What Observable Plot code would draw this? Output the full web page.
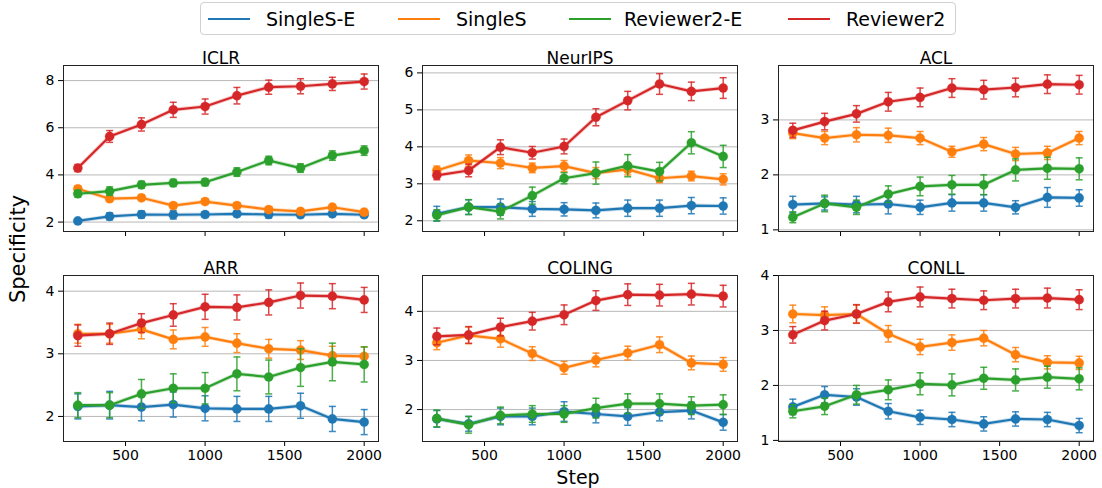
<!DOCTYPE html>
<html>
<head>
<meta charset="utf-8">
<script src="https://cdn.jsdelivr.net/npm/d3@7"></script>
<script src="https://cdn.jsdelivr.net/npm/@observablehq/plot@0.6"></script>
<style>
  html, body { margin: 0; padding: 0; background: #fff; }
  #root { position: relative; width: 1102px; height: 488px; background: #fff; font-family: "DejaVu Sans", sans-serif; overflow: hidden; }
  .panel { position: absolute; }
  .legend { position: absolute; left: 200px; top: 2px; width: 756px; height: 33px; border: 1px solid #d0d0d0; border-radius: 4px; box-sizing: border-box; }
  .lg-line { position: absolute; height: 2.2px; top: 15px; }
  .lg-text { position: absolute; top: 3px; font-size: 19px; line-height: 26px; color: #000; white-space: nowrap; }
  .lab { position: absolute; color: #000; white-space: nowrap; }
</style>
</head>
<body>
<div id="root"></div>
<script>
// ---------------- data ----------------
const steps = [200, 400, 600, 800, 1000, 1200, 1400, 1600, 1800, 2000];
const seriesNames = ["SingleS-E", "SingleS", "Reviewer2-E", "Reviewer2"];
const seriesColors = ["#1f77b4", "#ff7f0e", "#2ca02c", "#d62728"];
const venues = ["ICLR", "NeurIPS", "ACL", "ARR", "COLING", "CONLL"];

// means: [SingleS-E, SingleS, Reviewer2-E, Reviewer2]
const ICLR_mean = [
  [2.05, 2.24, 2.32, 2.31, 2.32, 2.35, 2.32, 2.31, 2.35, 2.31],
  [3.41, 2.99, 3.03, 2.70, 2.87, 2.70, 2.53, 2.45, 2.63, 2.42],
  [3.20, 3.31, 3.58, 3.66, 3.69, 4.12, 4.61, 4.29, 4.82, 5.03],
  [4.29, 5.63, 6.14, 6.76, 6.90, 7.36, 7.72, 7.76, 7.86, 7.96]
];
const ICLR_err = [
  [0.08, 0.15, 0.15, 0.18, 0.12, 0.12, 0.15, 0.12, 0.12, 0.12],
  [0.12, 0.12, 0.12, 0.12, 0.12, 0.12, 0.12, 0.12, 0.12, 0.12],
  [0.15, 0.18, 0.15, 0.15, 0.15, 0.18, 0.18, 0.18, 0.2, 0.2],
  [0.15, 0.25, 0.28, 0.32, 0.32, 0.35, 0.3, 0.32, 0.28, 0.32]
];

const NeurIPS_mean = [
  [2.19, 2.37, 2.37, 2.32, 2.31, 2.28, 2.34, 2.34, 2.41, 2.40],
  [3.36, 3.63, 3.56, 3.43, 3.48, 3.29, 3.39, 3.15, 3.21, 3.12],
  [2.15, 2.37, 2.25, 2.68, 3.15, 3.29, 3.49, 3.33, 4.11, 3.74],
  [3.23, 3.36, 3.99, 3.84, 4.01, 4.80, 5.25, 5.70, 5.50, 5.59]
];
const NeurIPS_err = [
  [0.2, 0.2, 0.22, 0.2, 0.18, 0.2, 0.22, 0.22, 0.22, 0.22],
  [0.12, 0.15, 0.15, 0.13, 0.15, 0.15, 0.15, 0.12, 0.13, 0.15],
  [0.15, 0.2, 0.2, 0.23, 0.15, 0.3, 0.3, 0.25, 0.3, 0.3],
  [0.12, 0.17, 0.2, 0.17, 0.2, 0.23, 0.25, 0.28, 0.25, 0.28]
];

const ACL_mean = [
  [1.46, 1.48, 1.46, 1.47, 1.41, 1.49, 1.49, 1.41, 1.59, 1.58],
  [2.76, 2.67, 2.73, 2.72, 2.67, 2.42, 2.56, 2.38, 2.40, 2.67],
  [1.23, 1.48, 1.41, 1.65, 1.79, 1.82, 1.82, 2.09, 2.12, 2.11],
  [2.81, 2.97, 3.11, 3.33, 3.41, 3.58, 3.55, 3.59, 3.65, 3.64]
];
const ACL_err = [
  [0.15, 0.12, 0.15, 0.18, 0.13, 0.15, 0.15, 0.12, 0.18, 0.15],
  [0.1, 0.12, 0.13, 0.13, 0.12, 0.1, 0.12, 0.12, 0.12, 0.12],
  [0.1, 0.15, 0.13, 0.15, 0.17, 0.17, 0.18, 0.2, 0.2, 0.2],
  [0.13, 0.15, 0.15, 0.17, 0.17, 0.17, 0.17, 0.17, 0.17, 0.17]
];

const ARR_mean = [
  [2.16, 2.18, 2.15, 2.19, 2.13, 2.12, 2.12, 2.17, 1.96, 1.91],
  [3.32, 3.32, 3.39, 3.23, 3.27, 3.17, 3.08, 3.06, 2.97, 2.96],
  [2.18, 2.18, 2.36, 2.45, 2.45, 2.68, 2.63, 2.78, 2.87, 2.83],
  [3.29, 3.32, 3.49, 3.62, 3.75, 3.74, 3.82, 3.93, 3.92, 3.86]
];
const ARR_err = [
  [0.2, 0.22, 0.22, 0.2, 0.2, 0.2, 0.2, 0.2, 0.2, 0.2],
  [0.15, 0.15, 0.15, 0.15, 0.15, 0.15, 0.15, 0.15, 0.15, 0.15],
  [0.2, 0.2, 0.23, 0.23, 0.25, 0.27, 0.27, 0.3, 0.3, 0.28],
  [0.17, 0.17, 0.15, 0.18, 0.2, 0.2, 0.2, 0.2, 0.2, 0.2]
];

const COLING_mean = [
  [1.81, 1.71, 1.86, 1.86, 1.96, 1.91, 1.86, 1.95, 1.98, 1.74],
  [3.36, 3.51, 3.44, 3.14, 2.85, 3.01, 3.15, 3.32, 2.95, 2.92],
  [1.82, 1.69, 1.88, 1.91, 1.91, 2.03, 2.12, 2.12, 2.08, 2.10],
  [3.49, 3.52, 3.68, 3.80, 3.93, 4.22, 4.34, 4.33, 4.35, 4.31]
];
const COLING_err = [
  [0.17, 0.15, 0.17, 0.17, 0.2, 0.18, 0.18, 0.18, 0.17, 0.16],
  [0.14, 0.17, 0.17, 0.14, 0.13, 0.14, 0.14, 0.16, 0.14, 0.14],
  [0.17, 0.17, 0.17, 0.17, 0.17, 0.2, 0.2, 0.2, 0.18, 0.2],
  [0.17, 0.17, 0.18, 0.18, 0.2, 0.2, 0.22, 0.22, 0.22, 0.22]
];

const CONLL_mean = [
  [1.61, 1.83, 1.79, 1.53, 1.42, 1.38, 1.30, 1.39, 1.38, 1.27],
  [3.30, 3.28, 3.30, 2.94, 2.70, 2.78, 2.86, 2.56, 2.42, 2.41],
  [1.53, 1.62, 1.83, 1.92, 2.03, 2.01, 2.13, 2.10, 2.15, 2.12],
  [2.92, 3.18, 3.30, 3.52, 3.61, 3.58, 3.55, 3.58, 3.59, 3.56]
];
const CONLL_err = [
  [0.14, 0.15, 0.15, 0.14, 0.13, 0.13, 0.13, 0.13, 0.13, 0.13],
  [0.16, 0.15, 0.16, 0.15, 0.14, 0.14, 0.14, 0.13, 0.12, 0.12],
  [0.12, 0.15, 0.17, 0.18, 0.2, 0.2, 0.2, 0.2, 0.2, 0.2],
  [0.15, 0.17, 0.17, 0.18, 0.18, 0.17, 0.17, 0.17, 0.18, 0.18]
];

const xTicks = [500, 1000, 1500, 2000];
const yTicks = {
  ICLR: [2, 4, 6, 8],
  NeurIPS: [2, 3, 4, 5, 6],
  ACL: [1, 2, 3],
  ARR: [2, 3, 4],
  COLING: [2, 3, 4],
  CONLL: [1, 2, 3, 4]
};
const yLimits = {
  ICLR: [1.6, 8.64],
  NeurIPS: [1.71, 6.2],
  ACL: [0.97, 3.99],
  ARR: [1.6, 4.25],
  COLING: [1.35, 4.73],
  CONLL: [0.98, 4.0]
};
const xLimits = [110, 2090];

const meansByVenue = { ICLR: ICLR_mean, NeurIPS: NeurIPS_mean, ACL: ACL_mean, ARR: ARR_mean, COLING: COLING_mean, CONLL: CONLL_mean };
const errsByVenue = { ICLR: ICLR_err, NeurIPS: NeurIPS_err, ACL: ACL_err, ARR: ARR_err, COLING: COLING_err, CONLL: CONLL_err };

// ---------------- layout ----------------
const root = document.getElementById("root");
const frameLefts = [63, 422, 778];
const frameTops = [65, 275];
const FW = 315, FH = 166;
const ML = 44, MR = 8, MT = 30, MB = 32;

const capSymbol = {
  draw(context, size) {
    const r = Math.sqrt(size / Math.PI);
    context.moveTo(-r, 0);
    context.lineTo(r, 0);
  }
};

venues.forEach((venue, vi) => {
  const col = vi % 3, row = Math.floor(vi / 3);
  const means = meansByVenue[venue], errs = errsByVenue[venue];
  const marks = [
    Plot.gridY(yTicks[venue], { stroke: "#b0b0b0", strokeOpacity: 1, strokeWidth: 0.9 })
  ];
  seriesNames.forEach((s, si) => {
    const rows = steps.map((st, j) => ({ step: st, mean: means[si][j], err: errs[si][j], series: s }));
    marks.push(
      Plot.ruleX(rows, { x: "step", y1: d => d.mean - d.err, y2: d => d.mean + d.err, stroke: "series", strokeWidth: 1.5, strokeOpacity: 0.85 }),
      Plot.dot(rows, { x: "step", y: d => d.mean + d.err, symbol: capSymbol, r: 3.5, stroke: "series", fill: "none", strokeWidth: 1.5, strokeOpacity: 0.85 }),
      Plot.dot(rows, { x: "step", y: d => d.mean - d.err, symbol: capSymbol, r: 3.5, stroke: "series", fill: "none", strokeWidth: 1.5, strokeOpacity: 0.85 }),
      Plot.line(rows, { x: "step", y: "mean", stroke: "series", strokeWidth: 4, strokeOpacity: 0.25 }),
      Plot.line(rows, { x: "step", y: "mean", stroke: "series", strokeWidth: 2.2 }),
      Plot.dot(rows, { x: "step", y: "mean", fill: "series", r: 4.6, stroke: "series", strokeOpacity: 0.3, strokeWidth: 1 })
    );
  });
  marks.push(
    Plot.frame({ stroke: "#222", strokeWidth: 1 }),
    Plot.text([venue], { frameAnchor: "top", dy: -14, fontSize: 17, fill: "#000" })
  );

  const chart = Plot.plot({
    width: FW + ML + MR,
    height: FH + MT + MB,
    marginLeft: ML, marginRight: MR, marginTop: MT, marginBottom: MB,
    style: { fontFamily: "DejaVu Sans", fontSize: "14px", color: "#000", background: "transparent", overflow: "visible" },
    x: { domain: xLimits, ticks: xTicks, tickSize: 5, tickPadding: 4, label: null,
         tickFormat: row === 1 ? (d => String(d)) : (() => "") },
    y: { domain: yLimits[venue], ticks: yTicks[venue], tickSize: 5, tickPadding: 4, label: null, tickFormat: d => String(d) },
    color: { domain: seriesNames, range: seriesColors },
    marks
  });
  chart.classList.add("panel");
  chart.style.left = (frameLefts[col] - ML) + "px";
  chart.style.top = (frameTops[row] - MT) + "px";
  root.appendChild(chart);
});

// ---------------- legend ----------------
const legend = document.createElement("div");
legend.className = "legend";
root.appendChild(legend);
const legendLineX = [207, 397, 568, 787];
const legendTextX = [265, 455, 623, 845];
seriesNames.forEach((s, i) => {
  const ln = document.createElement("div");
  ln.className = "lg-line";
  ln.style.left = (legendLineX[i] - 200) + "px";
  ln.style.width = "42px";
  ln.style.background = seriesColors[i];
  legend.appendChild(ln);
  const tx = document.createElement("div");
  tx.className = "lg-text";
  tx.style.left = (legendTextX[i] - 200) + "px";
  tx.textContent = s;
  legend.appendChild(tx);
});

// ---------------- axis labels ----------------
const xl = document.createElement("div");
xl.className = "lab";
xl.style.fontSize = "19px";
xl.style.left = "578px";
xl.style.top = "477px";
xl.style.transform = "translate(-50%, -50%)";
xl.textContent = "Step";
root.appendChild(xl);

const yl = document.createElement("div");
yl.className = "lab";
yl.style.fontSize = "21px";
yl.style.left = "18px";
yl.style.top = "249px";
yl.style.transform = "translate(-50%, -50%) rotate(-90deg)";
yl.textContent = "Specificity";
root.appendChild(yl);
</script>
</body>
</html>
